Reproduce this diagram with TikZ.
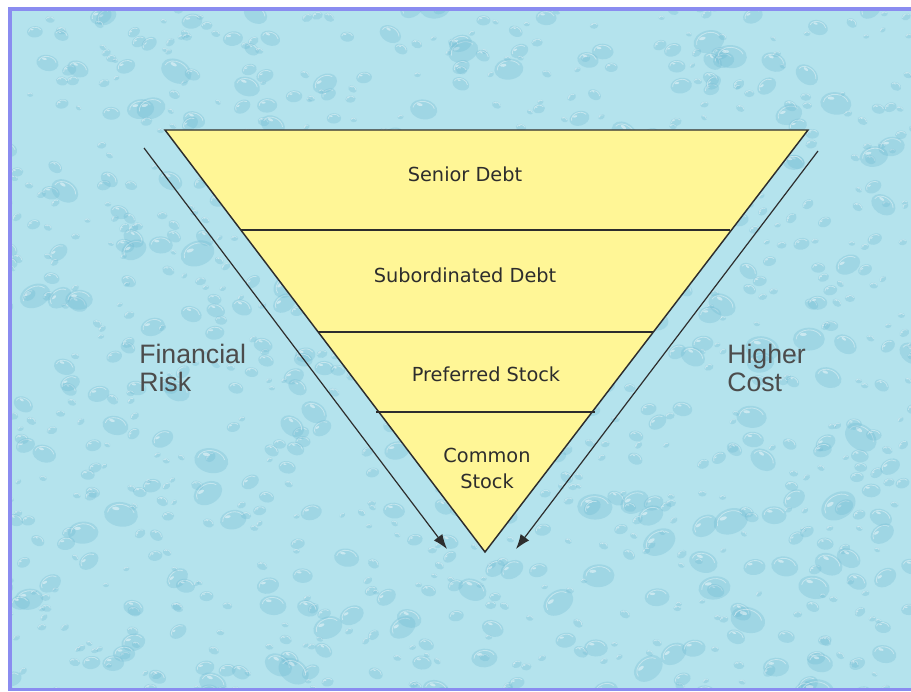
\documentclass[tikz,border=0pt]{standalone}
\usepackage{fontspec}
\setmainfont{Liberation Sans}
\newfontfamily\tierfont{DejaVu Sans}
\usetikzlibrary{arrows.meta}

\definecolor{water}{RGB}{180,227,237}
\definecolor{dropshade}{RGB}{105,182,208}
\definecolor{framecol}{RGB}{138,140,240}
\definecolor{tierfill}{RGB}{255,246,150}
\definecolor{inkgray}{RGB}{45,45,45}

\tikzset{
  tierline/.style={draw=inkgray, line width=1.1pt},
  tierlabel/.style={font=\tierfont\fontsize{14.5}{19.5}\selectfont, text=inkgray, align=center},
  sidelabel/.style={font=\fontsize{20}{21}\selectfont, text=inkgray!85, align=left, anchor=north west, inner sep=0pt},
  riskarrow/.style={draw=inkgray, line width=0.9pt, -{Latex[length=11pt,width=8pt]}},
  drop/.style={fill=dropshade, fill opacity=0.28},
  droprim/.style={draw=white, draw opacity=0.4, line width=0.6pt},
}

\begin{document}
\begin{tikzpicture}[x=0.75pt, y=-0.75pt]
  \useasboundingbox (0,0) rectangle (911,692);
  \fill[white] (0,0) rectangle (911,692);

  % water background with droplets
  \begin{scope}
    \clip (9,8) rectangle (911,690);
    \fill[water] (9,8) rectangle (911,690);
    \pgfmathsetseed{4242}
    \foreach \k in {1,...,1100}{
      \pgfmathsetmacro\px{5+910*rnd}
      \pgfmathsetmacro\py{5+690*rnd}
      \pgfmathsetmacro\rr{3+16*rnd*rnd}
      \pgfmathsetmacro\ang{-40+80*rnd}
      \begin{scope}[rotate around={\ang:(\px,\py)}]
        \fill[drop] (\px,\py) ellipse [x radius=\rr, y radius=0.72*\rr];
        \draw[droprim] (\px-0.8*\rr,\py) arc [start angle=180, end angle=340, x radius=0.8*\rr, y radius=0.58*\rr];
        \fill[white, fill opacity=0.45] (\px-0.35*\rr,\py-0.3*\rr) ellipse [x radius=0.22*\rr, y radius=0.1*\rr];
      \end{scope}
    }
  \end{scope}

  % frame
  \draw[framecol, line width=2.4pt] (10,9) rectangle (925,689.5);

  % inverted triangle of the capital structure
  \coordinate (tl) at (165,130);
  \coordinate (tr) at (808,130);
  \coordinate (apex) at (485,552);
  \fill[tierfill] (tl) -- (tr) -- (apex) -- cycle;
  \draw[tierline] (241,230) -- (730,230);
  \draw[tierline] (318,332) -- (653,332);
  \draw[tierline] (376,412) -- (595,412);
  \draw[tierline, line join=miter] (tl) -- (tr) -- (apex) -- cycle;

  \node[tierlabel] (senior) at (465,174) {Senior Debt};
  \node[tierlabel] (subord) at (465,275) {Subordinated Debt};
  \node[tierlabel] (pref) at (486,374) {Preferred Stock};
  \node[tierlabel, text width=90pt] (common) at (487,468) {Common\\Stock};

  % arrows along the sides
  \coordinate (riskstart) at (144,148);
  \coordinate (riskend) at (447,549);
  \coordinate (coststart) at (818,151);
  \coordinate (costend) at (516,549);
  \draw[riskarrow] (riskstart) -- (riskend);
  \draw[riskarrow] (coststart) -- (costend);

  \node[sidelabel] (risk) at (139,344) {Financial\\Risk};
  \node[sidelabel] (cost) at (727,344) {Higher\\Cost};
\end{tikzpicture}
\end{document}
